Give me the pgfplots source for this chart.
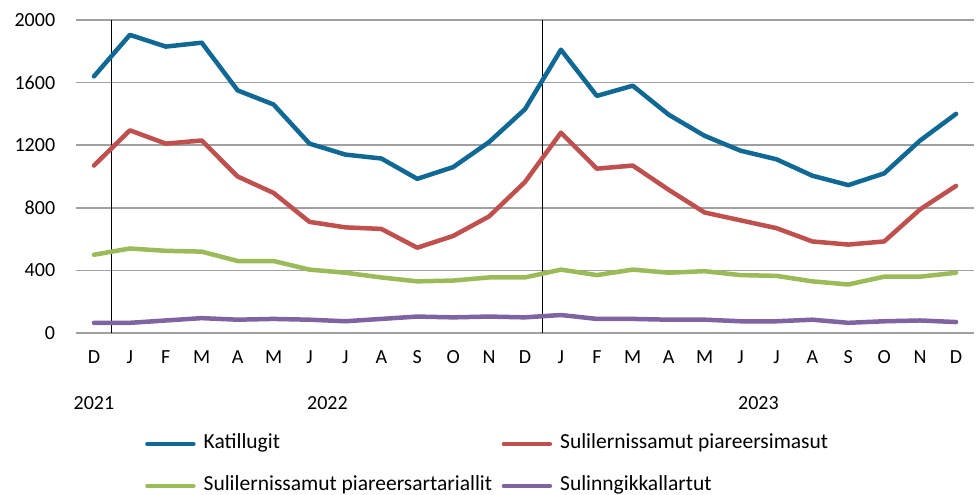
\documentclass[border=0pt]{standalone}
\usepackage{pgfplots}
\pgfplotsset{compat=1.18}
\usepackage{fontspec}
\setmainfont{Carlito}
\definecolor{cK}{RGB}{16,104,148}
\definecolor{cR}{RGB}{192,80,77}
\definecolor{cG}{RGB}{155,187,89}
\definecolor{cP}{RGB}{128,100,162}
\definecolor{gridgray}{RGB}{160,160,160}
\begin{document}
\fontsize{20bp}{24bp}\selectfont
\begin{tikzpicture}
\begin{axis}[
  at={(76bp,162bp)}, anchor=south west,
  width=898bp, height=313bp, scale only axis,
  xmin=-0.5, xmax=24.5, ymin=0, ymax=2000,
  xtick={0,...,24},
  xticklabels={D,J,F,M,A,M,J,J,A,S,O,N,D,J,F,M,A,M,J,J,A,S,O,N,D},
  ytick={0,400,...,2000},
  axis line style={draw=none},
  tick style={draw=none},
  ymajorgrids, major grid style={gridgray, line width=1.5bp},
  extra x ticks={0.5,12.5}, extra x tick labels={},
  extra x tick style={grid=major, major grid style={black, line width=1bp}},
  /pgf/number format/assume math mode=true,
  /pgf/number format/1000 sep={},
  ticklabel style={font=\fontsize{20bp}{24bp}\selectfont},
  yticklabel style={xshift=-14bp},
  xticklabel style={yshift=-11bp},
  clip=false,
  every axis plot/.append style={line width=4.5bp, line join=round, line cap=round},
  legend columns=2,
  legend cell align=left,
  legend style={draw=none, fill=none, at={(0.0768,-0.322)}, anchor=north west,
    inner sep=0pt, row sep=22bp, column sep=0pt,
    nodes={inner xsep=8bp, inner ysep=0pt, text height=15bp, text depth=5bp, font=\fontsize{21.5bp}{25bp}\selectfont}},
  legend image code/.code={\draw[#1, line cap=round] (0bp,0bp) -- (46bp,0bp);},
]
\addplot[cK] coordinates {(0,1640)(1,1905)(2,1830)(3,1855)(4,1550)(5,1460)(6,1210)(7,1140)(8,1115)(9,985)(10,1060)(11,1220)(12,1430)(13,1810)(14,1515)(15,1580)(16,1395)(17,1260)(18,1165)(19,1110)(20,1005)(21,945)(22,1020)(23,1230)(24,1400)};
\addlegendentry{\makebox[290bp][l]{Katillugit}}
\addplot[cR] coordinates {(0,1070)(1,1295)(2,1210)(3,1230)(4,1000)(5,895)(6,710)(7,675)(8,665)(9,545)(10,620)(11,745)(12,965)(13,1280)(14,1050)(15,1070)(16,915)(17,770)(18,720)(19,670)(20,585)(21,565)(22,585)(23,790)(24,940)};
\addlegendentry{Sulilernissamut piareersimasut}
\addplot[cG] coordinates {(0,500)(1,540)(2,525)(3,520)(4,460)(5,460)(6,405)(7,385)(8,355)(9,330)(10,335)(11,355)(12,355)(13,405)(14,370)(15,405)(16,385)(17,395)(18,370)(19,365)(20,330)(21,310)(22,360)(23,360)(24,385)};
\addlegendentry{\makebox[290bp][l]{Sulilernissamut piareersartariallit}}
\addplot[cP] coordinates {(0,65)(1,65)(2,80)(3,95)(4,85)(5,90)(6,85)(7,75)(8,90)(9,105)(10,100)(11,105)(12,100)(13,115)(14,90)(15,90)(16,85)(17,85)(18,75)(19,75)(20,85)(21,65)(22,75)(23,80)(24,70)};
\addlegendentry{Sulinngikkallartut}
\node[anchor=center] at (axis cs:0,0) [yshift=-70bp] {2021};
\node[anchor=center] at (axis cs:6.5,0) [yshift=-70bp] {2022};
\node[anchor=center] at (axis cs:18.5,0) [yshift=-70bp] {2023};
\end{axis}
\pgfresetboundingbox
\path (0,0) rectangle (979bp,495bp);
\end{tikzpicture}
\end{document}
